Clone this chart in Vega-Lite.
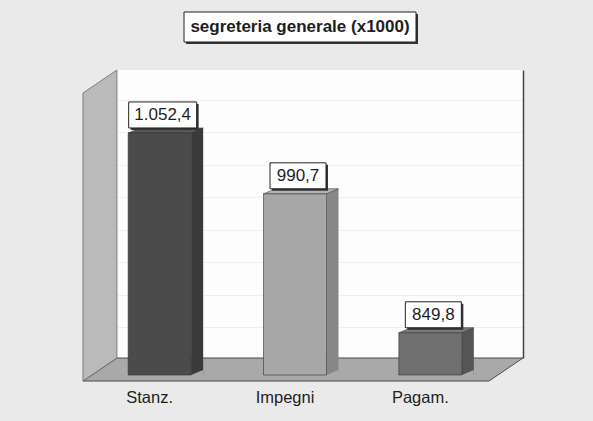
{
  "$schema": "https://vega.github.io/schema/vega-lite/v6.json",
  "autosize": {"type": "none"},
  "padding": {"left": 117, "top": 70, "right": 70, "bottom": 63},
  "width": 406,
  "height": 288,
  "background": "#eaeaea",
  "config": {
    "view": {"fill": "#fdfdfd", "stroke": null},
    "font": "Liberation Sans"
  },
  "data": {"values": [
    {"cat": "Stanz.", "value": 1052.4, "label": "1.052,4"},
    {"cat": "Impegni", "value": 990.7, "label": "990,7"},
    {"cat": "Pagam.", "value": 849.8, "label": "849,8"}
  ]},
  "resolve": {"scale": {"color": "independent"}},
  "layer": [
    {
      "data": {"values": [{}]},
      "mark": {"type": "point", "filled": true, "opacity": 1, "size": 4, "shape": "M-203,0L203,0L169,23L-237,23Z", "fill": "#a9a9a9", "stroke": "#4a4a4a", "strokeWidth": 1},
      "encoding": {
        "x": {"datum": "Impegni", "type": "nominal", "scale": {"type": "band", "domain": ["Stanz.", "Impegni", "Pagam."], "paddingInner": 0, "paddingOuter": 0},
              "axis": {"orient": "bottom", "title": null, "domain": false, "ticks": false, "labelFontSize": 16.5, "labelColor": "#1e1e1e", "labelOffset": -35, "labelPadding": 31, "labelAngle": 0}},
        "y": {"datum": 807, "type": "quantitative", "scale": {"domain": [807, 1099], "zero": false, "nice": false},
              "axis": {"orient": "right", "title": null, "labels": false, "ticks": false, "domainColor": "#444", "domainWidth": 1.5, "grid": true, "gridColor": "#efefef", "values": [838, 871, 904, 937, 970, 1003, 1036, 1069]}}
      }
    },
    {
      "data": {"values": [{}]},
      "mark": {"type": "point", "filled": true, "opacity": 1, "size": 4, "shape": "M-67.7,0L-67.7,288L-101.7,311L-101.7,23Z", "fill": "#bababa", "stroke": "#6a6a6a", "strokeWidth": 0.8},
      "encoding": {
        "x": {"datum": "Stanz.", "type": "nominal"},
        "y": {"datum": 1099, "type": "quantitative"}
      }
    },
    {
      "mark": {"type": "bar", "width": 12, "xOffset": 12.5, "yOffset": 12, "y2Offset": 17},
      "encoding": {
        "x": {"field": "cat", "type": "nominal"},
        "y": {"field": "value", "type": "quantitative"},
        "y2": {"datum": 807},
        "color": {"field": "cat", "type": "nominal", "legend": null, "scale": {"domain": ["Stanz.", "Impegni", "Pagam."], "range": ["#3a3a3a", "#878787", "#555555"]}}
      }
    },
    {
      "mark": {"type": "point", "filled": true, "opacity": 1, "size": 4, "shape": "M6.5,17L18.5,12L18.5,17Z", "fill": "#a9a9a9"},
      "encoding": {
        "x": {"field": "cat", "type": "nominal"},
        "y": {"datum": 807}
      }
    },
    {
      "mark": {"type": "point", "filled": true, "opacity": 1, "size": 4, "shape": "M-56.5,17L6.5,17L18.5,12L-44.5,12Z", "strokeWidth": 0.5, "stroke": "#333"},
      "encoding": {
        "x": {"field": "cat", "type": "nominal"},
        "y": {"field": "value", "type": "quantitative"},
        "color": {"field": "cat", "type": "nominal", "legend": null, "scale": {"domain": ["Stanz.", "Impegni", "Pagam."], "range": ["#5a5a5a", "#b3b3b3", "#7a7a7a"]}}
      }
    },
    {
      "mark": {"type": "bar", "width": 63, "xOffset": -25, "yOffset": 17, "y2Offset": 17, "stroke": "#333", "strokeWidth": 0.6},
      "encoding": {
        "x": {"field": "cat", "type": "nominal"},
        "y": {"field": "value", "type": "quantitative"},
        "y2": {"datum": 807},
        "color": {"field": "cat", "type": "nominal", "legend": null, "scale": {"domain": ["Stanz.", "Impegni", "Pagam."], "range": ["#4b4b4b", "#a7a7a7", "#6f6f6f"]}}
      }
    },
    {
      "mark": {"type": "point", "filled": true, "opacity": 1, "size": 4, "xOffset": -20, "yOffset": 1, "fill": "#333"},
      "encoding": {
        "x": {"field": "cat", "type": "nominal"},
        "y": {"field": "value", "type": "quantitative"},
        "shape": {"field": "cat", "type": "nominal", "legend": null, "scale": {"domain": ["Stanz.", "Impegni", "Pagam."], "range": ["M-34,-13L34,-13L34,13L-34,13Z", "M-28,-13L28,-13L28,13L-28,13Z", "M-28,-13L28,-13L28,13L-28,13Z"]}}
      }
    },
    {
      "mark": {"type": "point", "filled": true, "opacity": 1, "size": 4, "xOffset": -22, "yOffset": -1, "fill": "#ffffff", "stroke": "#222", "strokeWidth": 1},
      "encoding": {
        "x": {"field": "cat", "type": "nominal"},
        "y": {"field": "value", "type": "quantitative"},
        "shape": {"field": "cat", "type": "nominal", "legend": null}
      }
    },
    {
      "mark": {"type": "text", "xOffset": -22, "yOffset": -1, "fontSize": 17, "color": "#1e1e1e", "baseline": "middle", "align": "center"},
      "encoding": {
        "x": {"field": "cat", "type": "nominal"},
        "y": {"field": "value", "type": "quantitative"},
        "text": {"field": "label"}
      }
    },
    {
      "data": {"values": [{}]},
      "mark": {"type": "point", "filled": true, "opacity": 1, "size": 4, "xOffset": -18, "yOffset": -41, "fill": "#333", "shape": "M-116,-15L116,-15L116,15L-116,15Z"},
      "encoding": {
        "x": {"datum": "Impegni", "type": "nominal"},
        "y": {"datum": 1099, "type": "quantitative"}
      }
    },
    {
      "data": {"values": [{}]},
      "mark": {"type": "point", "filled": true, "opacity": 1, "size": 4, "xOffset": -20, "yOffset": -43, "fill": "#ffffff", "stroke": "#222", "strokeWidth": 1, "shape": "M-116,-15L116,-15L116,15L-116,15Z"},
      "encoding": {
        "x": {"datum": "Impegni", "type": "nominal"},
        "y": {"datum": 1099, "type": "quantitative"}
      }
    },
    {
      "data": {"values": [{"t": "segreteria generale (x1000)"}]},
      "mark": {"type": "text", "xOffset": -20, "yOffset": -43, "fontSize": 17, "fontWeight": "bold", "color": "#1e1e1e", "baseline": "middle", "align": "center"},
      "encoding": {
        "x": {"datum": "Impegni", "type": "nominal"},
        "y": {"datum": 1099, "type": "quantitative"},
        "text": {"field": "t"}
      }
    }
  ]
}
